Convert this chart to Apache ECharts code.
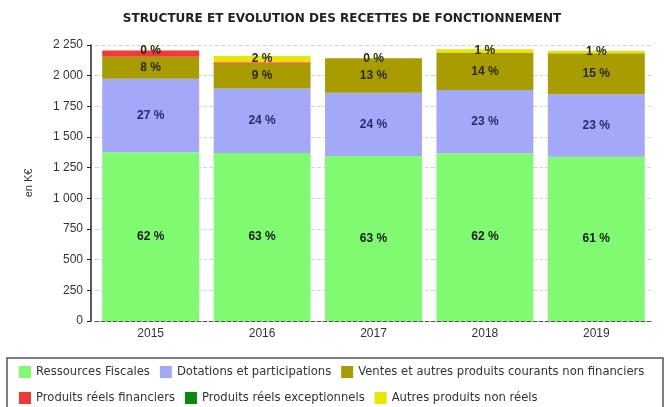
<!DOCTYPE html>
<html>
<head>
<meta charset="utf-8">
<script src="https://cdn.jsdelivr.net/npm/echarts@6/dist/echarts.min.js"></script>
<style>
  html, body { margin: 0; padding: 0; background: #fff; }
  #chart { width: 665px; height: 407px; }
</style>
</head>
<body>
<div id="chart"></div>
<script>
var years = ['2015', '2016', '2017', '2018', '2019'];

// montants en K€
var ressourcesFiscales = [1375, 1370, 1345, 1367, 1339];
var dotations          = [600, 525, 516, 516, 509];
var ventes             = [180, 203, 280, 305, 334];
var produitsFinanciers = [50, 12, 0, 0, 0];
var produitsExcept     = [0, 0, 0, 0, 0];
var autresNonReels     = [0, 50, 0, 27, 20];

var yTicks = [0, 250, 500, 750, 1000, 1250, 1500, 1750, 2000, 2250];

var totals = years.map(function (y, i) {
  return ressourcesFiscales[i] + dotations[i] + ventes[i] +
    produitsFinanciers[i] + produitsExcept[i] + autresNonReels[i];
});

function pct(params) {
  return Math.round(params.value / totals[params.dataIndex] * 100) + ' %';
}

function lbl(color) {
  return {
    show: true,
    position: 'inside',
    formatter: pct,
    color: color,
    fontFamily: 'Liberation Sans',
    fontSize: 12,
    fontWeight: 'bold'
  };
}

var chart = echarts.init(document.getElementById('chart'), null, { renderer: 'canvas' });

var series = [
  { name: 'Ressources Fiscales', data: ressourcesFiscales, color: '#80fa70', label: lbl('#1a1a1a') },
  { name: 'Dotations et participations', data: dotations, color: '#a3a8f8', label: lbl('#2a2a6a') },
  { name: 'Ventes et autres produits courants non financiers', data: ventes, color: '#a89c00', label: lbl('#2a2a00') },
  { name: 'Produits réels financiers', data: produitsFinanciers, color: '#f03a3a', label: { show: false } },
  { name: 'Produits réels exceptionnels', data: produitsExcept, color: '#0a8a0a', label: { show: false } },
  { name: 'Autres produits non réels', data: autresNonReels, color: '#e6e600', label: lbl('#2a2a00') }
].map(function (s) {
  return {
    name: s.name,
    type: 'bar',
    stack: 'total',
    data: s.data,
    barCategoryGap: '13%',
    itemStyle: { color: s.color },
    label: s.label,
    emphasis: { disabled: true },
    animation: false
  };
});

var option = {
  backgroundColor: '#fff',
  animation: false,
  title: {
    text: 'STRUCTURE ET EVOLUTION DES RECETTES DE FONCTIONNEMENT',
    left: 337,
    textAlign: 'center',
    top: 8,
    textStyle: { fontFamily: 'DejaVu Sans', fontSize: 12, fontWeight: 'bold', color: '#222' }
  },
  grid: { left: 95, right: 13, top: 45, bottom: 86 },
  legend: {
    left: 14,
    top: 359,
    width: 650,
    itemWidth: 12,
    itemHeight: 12,
    itemGap: 10,
    icon: 'rect',
    textStyle: { fontFamily: 'DejaVu Sans', fontSize: 11.6, color: '#333', lineHeight: 16, height: 16 },
    data: series.map(function (s) { return s.name; })
  },
  graphic: [{
    type: 'rect',
    shape: { x: 7, y: 358, width: 656, height: 60 },
    style: { fill: 'none', stroke: '#555', lineWidth: 1.5 },
    silent: true
  }],
  xAxis: {
    type: 'category',
    data: years,
    axisLine: { lineStyle: { color: '#555', type: 'dashed' } },
    axisTick: { show: false },
    axisLabel: { fontFamily: 'Liberation Sans', fontSize: 12, color: '#333', margin: 7 }
  },
  yAxis: {
    type: 'value',
    min: yTicks[0],
    max: yTicks[yTicks.length - 1],
    interval: yTicks[1] - yTicks[0],
    offset: 4,
    name: 'en K€',
    nameLocation: 'middle',
    nameGap: 57,
    nameTextStyle: { fontFamily: 'Liberation Sans', fontSize: 11, color: '#333' },
    axisLine: { show: true, lineStyle: { color: '#222', width: 1.5 } },
    axisTick: { show: true, length: 4, lineStyle: { color: '#222' } },
    axisLabel: {
      fontFamily: 'Liberation Sans',
      fontSize: 12,
      color: '#333',
      margin: 8,
      formatter: function (v) {
        return String(v).replace(/\B(?=(\d{3})+(?!\d))/g, ' ');
      }
    },
    splitLine: { show: true, lineStyle: { color: '#d4d4d4', type: 'dashed' } }
  },
  series: series
};

chart.setOption(option);
</script>
</body>
</html>
